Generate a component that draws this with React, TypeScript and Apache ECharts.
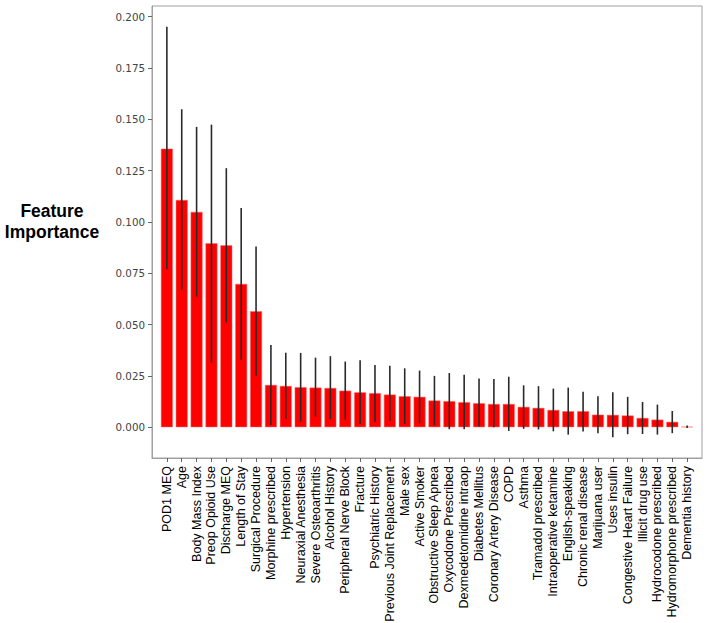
import React, { useEffect, useRef } from "react";
import * as echarts from "echarts";

const features = [
  "POD1 MEQ", "Age", "Body Mass Index", "Preop Opioid Use", "Discharge MEQ",
  "Length of Stay", "Surgical Procedure", "Morphine prescribed", "Hypertension",
  "Neuraxial Anesthesia", "Severe Osteoarthritis", "Alcohol History",
  "Peripheral Nerve Block", "Fracture", "Psychiatric History",
  "Previous Joint Replacement", "Male sex", "Active Smoker",
  "Obstructive Sleep Apnea", "Oxycodone Prescribed", "Dexmedetomidine intraop",
  "Diabetes Mellitus", "Coronary Artery Disease", "COPD", "Asthma",
  "Tramadol prescribed", "Intraoperative ketamine", "English-speaking",
  "Chronic renal disease", "Marijuana user", "Uses insulin",
  "Congestive Heart Failure", "Illicit drug use", "Hydrocodone prescribed",
  "Hydromorphone prescribed", "Dementia history",
];

const importance = [
  0.1357, 0.1107, 0.1049, 0.0896, 0.0886, 0.0698, 0.0565, 0.0206, 0.0201,
  0.0195, 0.0193, 0.0191, 0.0178, 0.0170, 0.0166, 0.0159, 0.0151, 0.0148,
  0.0130, 0.0127, 0.0122, 0.0117, 0.0113, 0.0113, 0.0099, 0.0094, 0.0084,
  0.0078, 0.0078, 0.0061, 0.0060, 0.0057, 0.0045, 0.0037, 0.0026, 0.0002,
];

const errLow = [
  0.0770, 0.0669, 0.0636, 0.0315, 0.0511, 0.0328, 0.0250, 0.0011, 0.0039,
  0.0027, 0.0052, 0.0039, 0.0037, 0.0016, 0.0027, 0.0031, 0.0016, 0.0019,
  0.0010, -0.0010, -0.0010, 0.0003, 0.0000, -0.0018, -0.0008, -0.0011, -0.0020,
  -0.0036, -0.0021, -0.0029, -0.0049, -0.0034, -0.0033, -0.0036, -0.0029, -0.0004,
];

const errHigh = [
  0.1951, 0.1549, 0.1463, 0.1474, 0.1262, 0.1068, 0.0880, 0.0401, 0.0363,
  0.0362, 0.0339, 0.0346, 0.0320, 0.0326, 0.0303, 0.0299, 0.0287, 0.0276,
  0.0250, 0.0264, 0.0256, 0.0237, 0.0235, 0.0246, 0.0204, 0.0200, 0.0188,
  0.0193, 0.0173, 0.0151, 0.0170, 0.0148, 0.0123, 0.0110, 0.0079, 0.0008,
];

const yTicks = [0, 0.025, 0.05, 0.075, 0.1, 0.125, 0.15, 0.175, 0.2];

export default function App() {
  const ref = useRef<HTMLDivElement>(null);
  useEffect(() => {
    if (!ref.current) return;
    const chart = echarts.init(ref.current, null, { renderer: "svg" });
    const idx = features.map((_, i) => i);
    chart.setOption({
      animation: false,
      backgroundColor: "#ffffff",
      grid: {
        left: 152,
        top: 6,
        width: 550,
        height: 452,
        show: true,
        borderColor: "#a0a0a0",
        borderWidth: 1,
        outerBoundsMode: "none",
        containLabel: false,
      },
      graphic: [
        {
          type: "text",
          x: 52,
          y: 221,
          style: {
            text: "Feature\nImportance",
            font: "bold 17.5px 'Liberation Sans', Arial, sans-serif",
            fill: "#000",
            align: "center",
            verticalAlign: "middle",
            lineHeight: 21,
          },
        },
      ],
      xAxis: {
        type: "value",
        min: -1,
        max: 36,
        splitLine: { show: false },
        axisLine: { show: true, onZero: false, lineStyle: { color: "#a0a0a0" } },
        axisTick: {
          show: true,
          customValues: idx,
          length: 4,
          lineStyle: { color: "#666" },
        },
        axisLabel: {
          customValues: idx,
          rotate: 90,
          margin: 8,
          fontFamily: "'Liberation Sans', Arial, sans-serif",
          fontSize: 12.5,
          color: "#000",
          formatter: (v: number) => features[Math.round(v)] ?? "",
        },
      },
      yAxis: {
        type: "value",
        min: -0.015,
        max: 0.2052,
        splitLine: { show: false },
        axisLine: { show: true, onZero: false, lineStyle: { color: "#a0a0a0" } },
        axisTick: {
          show: true,
          customValues: yTicks,
          length: 4,
          lineStyle: { color: "#666" },
        },
        axisLabel: {
          customValues: yTicks,
          margin: 7,
          fontFamily: "'DejaVu Sans', sans-serif",
          fontSize: 10.3,
          color: "#444",
          formatter: (v: number) => v.toFixed(3),
        },
      },
      series: [
        {
          type: "bar",
          barWidth: 11.9,
          itemStyle: { color: "#ff0000", borderColor: "#ff6a6a", borderWidth: 0.5 },
          data: importance.map((v, i) => [i, v]),
        },
        {
          type: "custom",
          renderItem: (params: any, api: any) => {
            const i = api.value(0);
            const p1 = api.coord([i, api.value(1)]);
            const p2 = api.coord([i, api.value(2)]);
            return {
              type: "line",
              shape: { x1: p1[0], y1: p1[1], x2: p2[0], y2: p2[1] },
              style: { stroke: "#2a2a2a", lineWidth: 1.6 },
            };
          },
          encode: { x: 0, y: [1, 2] },
          data: idx.map((i) => [i, errLow[i], errHigh[i]]),
          z: 5,
        },
      ],
    });
    return () => chart.dispose();
  }, []);
  return (
    <div
      ref={ref}
      style={{ position: "fixed", left: 0, top: 0, width: 707, height: 623 }}
    />
  );
}
